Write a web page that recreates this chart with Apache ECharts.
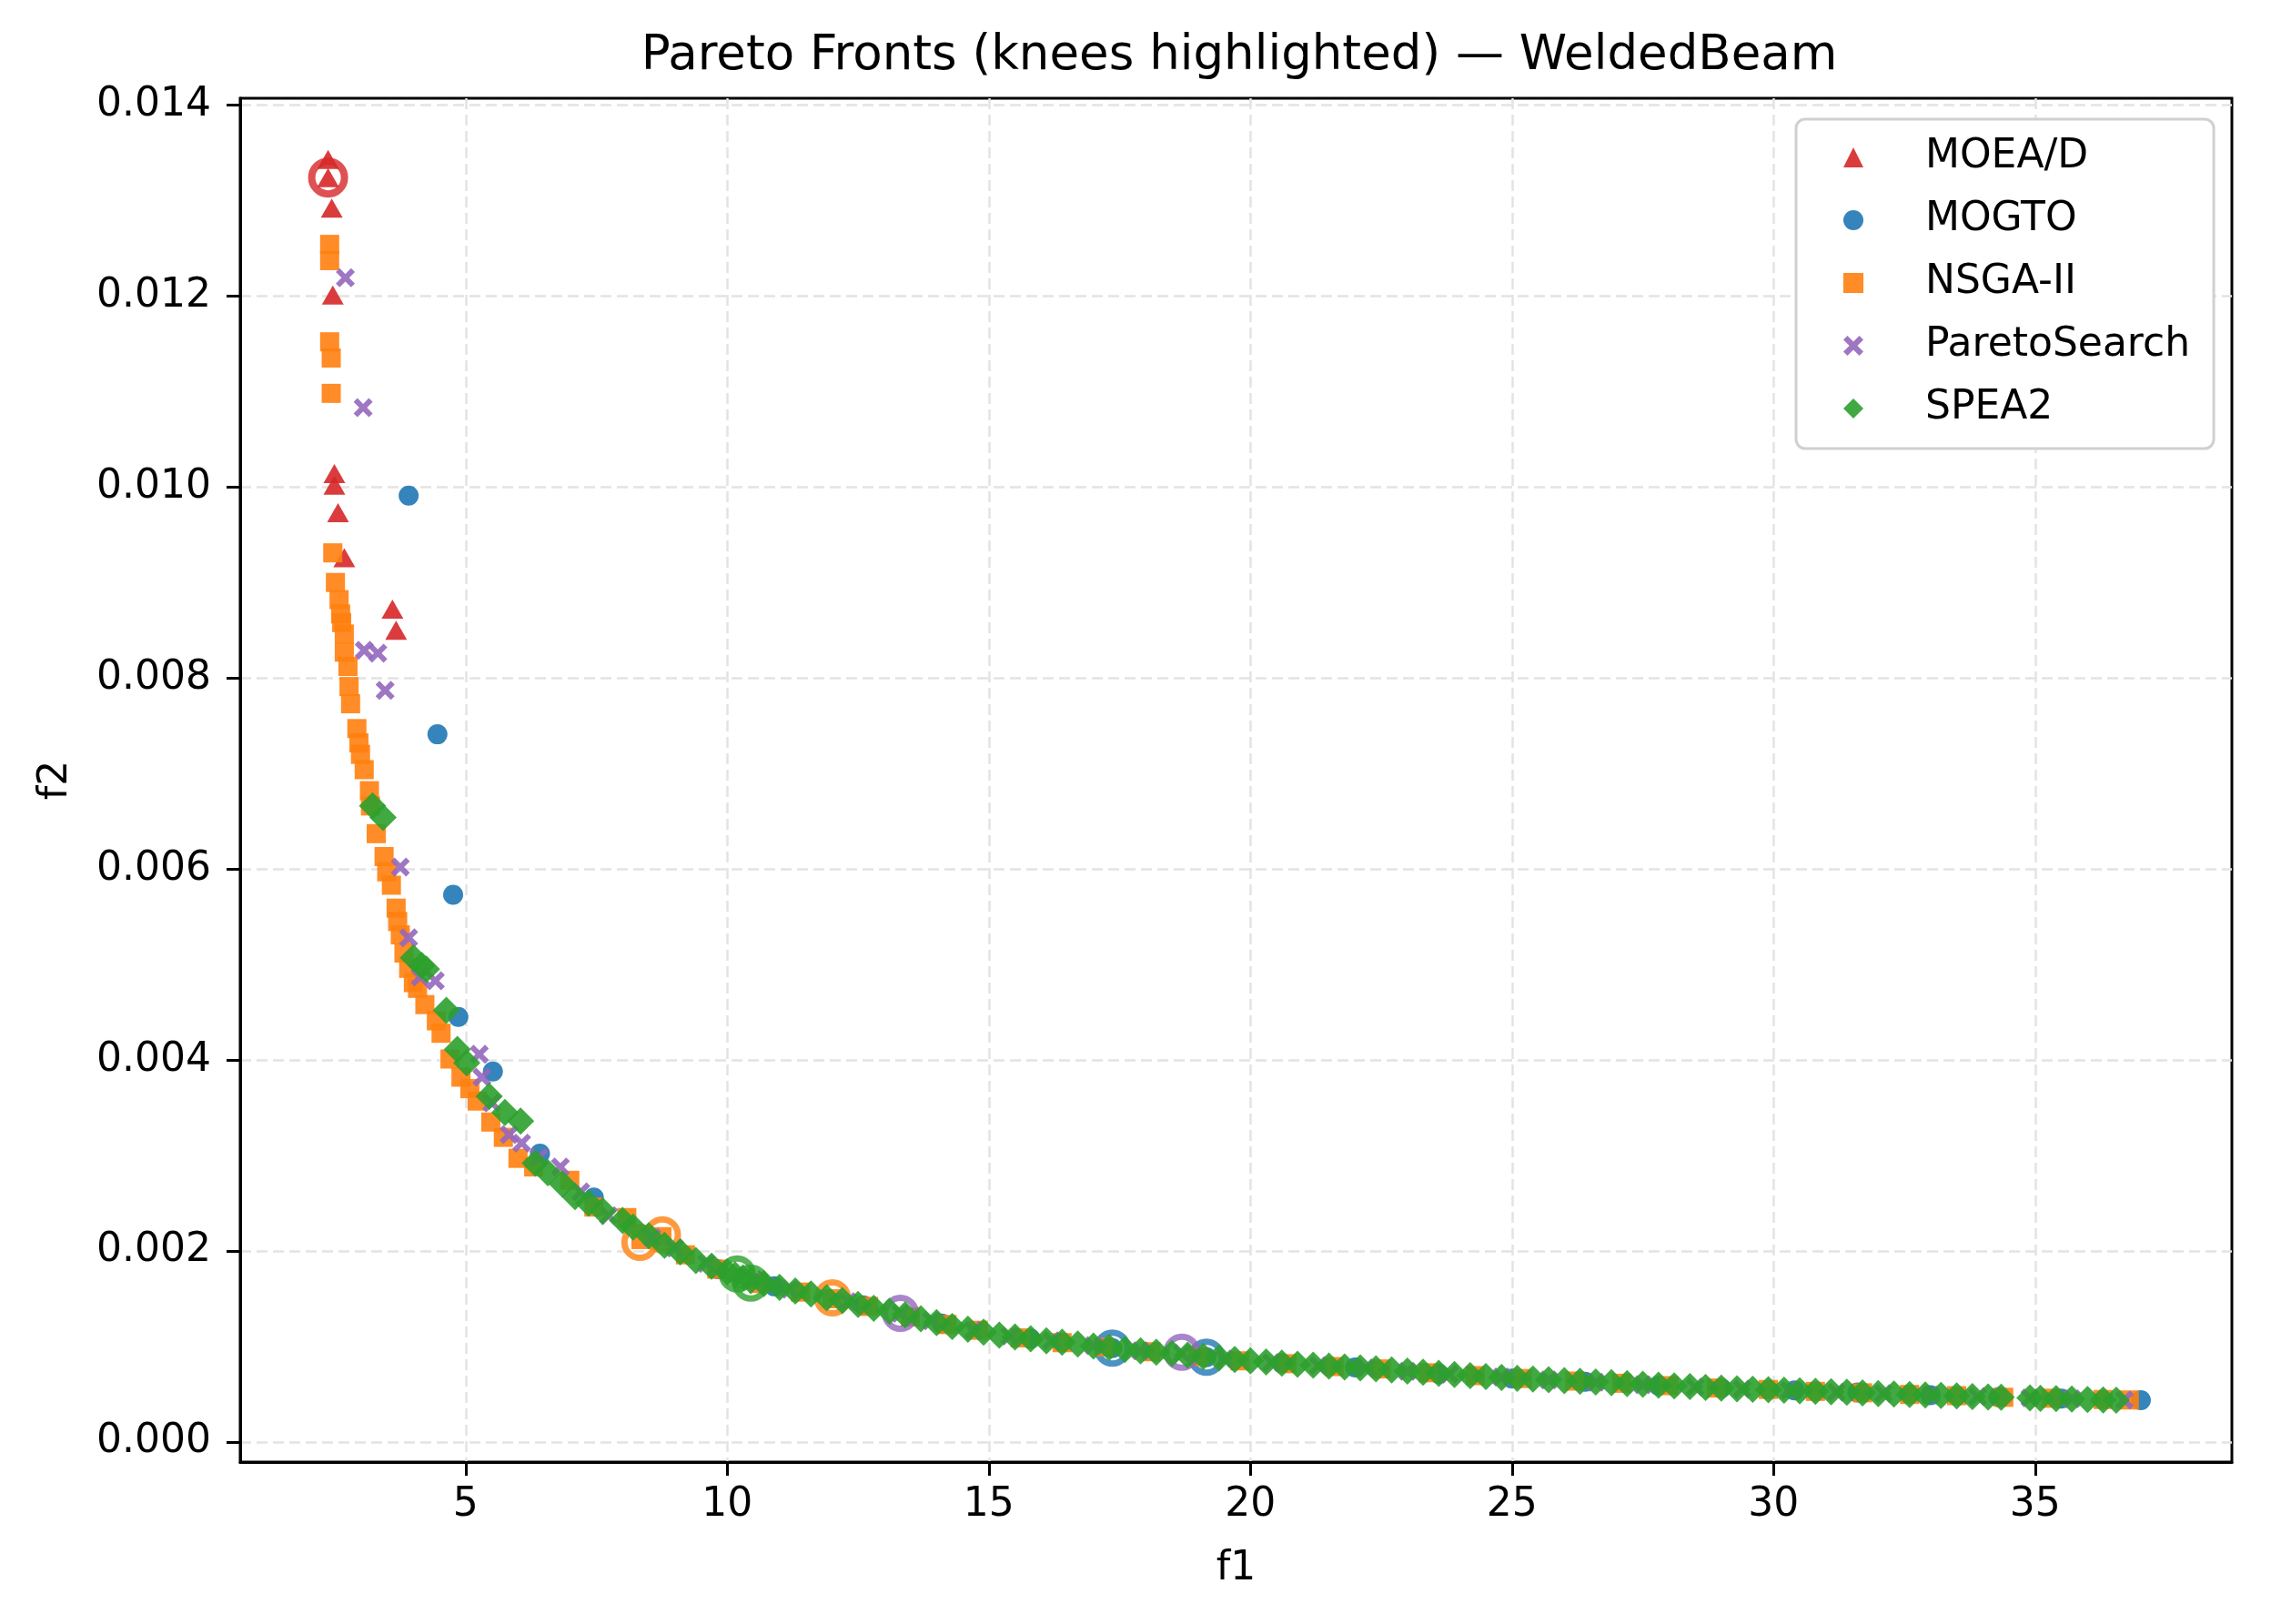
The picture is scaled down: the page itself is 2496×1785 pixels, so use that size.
<!DOCTYPE html>
<html>
<head>
<meta charset="UTF-8">
<title>Pareto Fronts — WeldedBeam</title>
<script src="https://cdn.jsdelivr.net/npm/echarts@6/dist/echarts.min.js"></script>
<style>
  html, body { margin: 0; padding: 0; background: #fff; }
  #chart { width: 2496px; height: 1785px; }
</style>
</head>
<body>
<div id="chart"></div>
<script>
// tick labels
var xTicks = [5, 10, 15, 20, 25, 30, 35];
var yTicks = [0, 0.002, 0.004, 0.006, 0.008, 0.010, 0.012, 0.014];

// series values [f1, f2]
var moeadPts = [
  [2.37, 0.01343], [2.37, 0.01324], [2.44, 0.01292], [2.46, 0.01201], [2.49, 0.01014],
  [2.49, 0.01002], [2.56, 0.00973], [2.68, 0.00926], [3.60, 0.00872], [3.67, 0.00850]
];
var mogtoPts = [
  [3.91, 0.00991], [4.46, 0.00741], [4.76, 0.00573], [4.86, 0.00445], [5.52, 0.00388],
  [6.42, 0.00302], [7.45, 0.00256], [9.82, 0.00181], [10.9, 0.00163], [12.6, 0.00143],
  [14.1, 0.00124], [15.8, 0.00108], [17.36, 0.000983], [19.16, 0.000888], [20.6, 0.000825],
  [22.0, 0.00078], [23.6, 0.000715], [25.0, 0.000665], [26.4, 0.00063], [27.8, 0.00059],
  [29.0, 0.000565], [30.4, 0.00054], [31.6, 0.000518], [33.0, 0.00049], [34.3, 0.00047],
  [35.5, 0.000455], [37.02, 0.000438]
];
var nsgaPts = [
  [2.40, 0.01254], [2.40, 0.01237], [2.40, 0.01152], [2.43, 0.01135], [2.43, 0.01098],
  [2.46, 0.00931], [2.51, 0.00900], [2.58, 0.00882], [2.61, 0.00867], [2.63, 0.00858],
  [2.68, 0.00846], [2.68, 0.00827], [2.75, 0.00812], [2.77, 0.00791], [2.80, 0.00773],
  [2.92, 0.00747], [2.96, 0.00732], [2.99, 0.00720], [3.06, 0.00704], [3.16, 0.00682],
  [3.18, 0.00666], [3.29, 0.00637], [3.44, 0.00613], [3.49, 0.00597], [3.58, 0.00583],
  [3.67, 0.00559], [3.70, 0.00545], [3.75, 0.00531], [3.82, 0.00512], [3.91, 0.00496],
  [4.00, 0.00481], [4.08, 0.00475], [4.22, 0.00458], [4.44, 0.00441], [4.53, 0.00428],
  [4.70, 0.00401], [4.91, 0.00382], [5.08, 0.00370], [5.22, 0.00357], [5.48, 0.00335],
  [5.72, 0.00319], [6.00, 0.00297], [6.30, 0.00288], [6.99, 0.00274], [7.45, 0.00246],
  [8.08, 0.00235], [8.35, 0.00212], [8.75, 0.00215], [9.2, 0.00196], [9.8, 0.00181],
  [10.6, 0.00166], [11.4, 0.00157], [12.0, 0.00150], [12.7, 0.00142], [13.5, 0.00131],
  [14.2, 0.00123], [14.8, 0.00117], [15.6, 0.00109], [16.4, 0.00104], [17.2, 0.000995],
  [18.1, 0.000945], [19.0, 0.000895], [19.8, 0.00085], [20.7, 0.00082], [21.6, 0.00079],
  [22.5, 0.000765], [23.4, 0.000725], [24.3, 0.000695], [25.2, 0.000665], [26.2, 0.000638],
  [27.1, 0.000615], [28.0, 0.00059], [28.9, 0.000565], [29.9, 0.00055], [30.8, 0.00053],
  [31.7, 0.000515], [32.6, 0.000498], [33.5, 0.000485], [34.4, 0.000468], [35.3, 0.000458],
  [36.3, 0.000445], [36.8, 0.00044]
];
var paretoPts = [
  [2.70, 0.01219], [3.04, 0.01083], [3.06, 0.00829], [3.32, 0.00826], [3.46, 0.00787],
  [3.75, 0.00602], [3.91, 0.00528], [4.13, 0.00487], [4.42, 0.00483], [5.26, 0.00406],
  [5.31, 0.00382], [5.50, 0.00355], [5.83, 0.00322], [6.07, 0.00313], [6.40, 0.00298],
  [6.81, 0.00288], [7.20, 0.00262], [7.73, 0.00237], [8.56, 0.00214], [9.0, 0.00203],
  [9.6, 0.00187], [10.5, 0.00170], [11.2, 0.00160], [12.3, 0.00147], [13.31, 0.001348],
  [13.9, 0.00127], [14.7, 0.00117], [15.4, 0.00111], [16.2, 0.00106], [17.0, 0.00101],
  [17.9, 0.000955], [18.69, 0.00093], [19.5, 0.00087], [20.4, 0.00083], [21.3, 0.0008],
  [22.2, 0.000775], [23.0, 0.00074], [23.8, 0.00071], [24.8, 0.00068], [25.7, 0.00065],
  [26.6, 0.000625], [27.5, 0.0006], [28.5, 0.000575], [29.4, 0.000555], [30.3, 0.00054],
  [31.2, 0.00052], [32.1, 0.000508], [33.0, 0.00049], [33.9, 0.000475], [34.9, 0.000462],
  [35.7, 0.000452], [36.7, 0.00044]
];
var spea2Pts = [
  [3.22, 0.00666], [3.42, 0.00654], [4.00, 0.00507], [4.16, 0.00499], [4.25, 0.00495],
  [4.63, 0.00452], [4.84, 0.00411], [5.02, 0.00397], [5.45, 0.00362], [5.75, 0.00345],
  [6.05, 0.00336], [6.33, 0.00292], [6.57, 0.00282], [6.85, 0.00270], [7.09, 0.00257],
  [7.35, 0.00250], [7.62, 0.00242], [8.0, 0.00232], [8.2, 0.00225], [8.5, 0.00216],
  [8.8, 0.00206], [9.1, 0.00199], [9.4, 0.00190], [9.7, 0.00184], [10.0, 0.00178],
  [10.15, 0.00175], [10.3, 0.00172], [10.45, 0.00169], [10.7, 0.00166], [11.0, 0.00162],
  [11.3, 0.00158], [11.6, 0.00155], [11.9, 0.00151], [12.2, 0.00148], [12.5, 0.00144],
  [12.8, 0.00140], [13.1, 0.00137], [13.4, 0.00133], [13.7, 0.00129], [14.0, 0.00125],
  [14.3, 0.00121], [14.6, 0.00118], [14.9, 0.00115], [15.2, 0.00112], [15.5, 0.0011],
  [15.8, 0.00108], [16.1, 0.00106], [16.4, 0.001045], [16.7, 0.001025], [17.0, 0.001005],
  [17.3, 0.00099], [17.6, 0.00097], [17.9, 0.000955], [18.2, 0.00094], [18.5, 0.000925],
  [18.8, 0.00091], [19.1, 0.000895], [19.4, 0.00088], [19.7, 0.000865], [20.0, 0.00085],
  [20.3, 0.000838], [20.6, 0.000826], [20.9, 0.000815], [21.2, 0.000805], [21.5, 0.000795],
  [21.8, 0.000786], [22.1, 0.000776], [22.4, 0.000766], [22.7, 0.000755], [23.0, 0.000742],
  [23.3, 0.00073], [23.6, 0.000718], [23.9, 0.000706], [24.2, 0.000695], [24.5, 0.000686],
  [24.8, 0.000676], [25.1, 0.000667], [25.4, 0.000659], [25.7, 0.000651], [26.0, 0.000643],
  [26.3, 0.000636], [26.6, 0.000628], [26.9, 0.00062], [27.2, 0.000612], [27.5, 0.000604],
  [27.8, 0.000596], [28.1, 0.000588], [28.4, 0.00058], [28.7, 0.000572], [29.0, 0.000565],
  [29.3, 0.000558], [29.6, 0.000552], [29.9, 0.000547], [30.2, 0.000542], [30.5, 0.000536],
  [30.8, 0.000531], [31.1, 0.000525], [31.4, 0.00052], [31.7, 0.000514], [32.0, 0.000508],
  [32.3, 0.000502], [32.6, 0.000497], [32.9, 0.000492], [33.2, 0.000487], [33.5, 0.000482],
  [33.8, 0.000477], [34.1, 0.000472], [34.35, 0.000469], [34.9, 0.000462], [35.1, 0.000458],
  [35.4, 0.000454], [35.7, 0.00045], [36.0, 0.000446], [36.3, 0.000441], [36.55, 0.000437]
];

// knee points (highlighted rings)
var moeadKnees = [[2.37, 0.01324]];
var mogtoKnees = [[17.36, 0.000983], [19.16, 0.000888]];
var nsgaKnees = [[8.33, 0.00209], [8.76, 0.00217], [12.01, 0.00151]];
var paretoKnees = [[13.31, 0.001348], [18.69, 0.00094]];
var spea2Knees = [[10.19, 0.00176], [10.45, 0.001665]];

var names = ['MOEA/D', 'MOGTO', 'NSGA-II', 'ParetoSearch', 'SPEA2'];
var colors = ['#d62728', '#1f77b4', '#ff7f0e', '#9467bd', '#2ca02c'];
var xMark = 'path://M0,2 L2,0 L5,3 L8,0 L10,2 L7,5 L10,8 L8,10 L5,7 L2,10 L0,8 L3,5 Z';

var FONT = 'DejaVu Sans';

function pts(name, data, color, symbol, size) {
    return {
        name: name, type: 'scatter', data: data,
        symbol: symbol, symbolSize: size,
        itemStyle: { color: color, opacity: 0.9 },
        emphasis: { disabled: true }, silent: true
    };
}
function knee(name, data, color, size, bw) {
    return {
        name: name + ' knee', type: 'scatter', data: data,
        symbol: 'circle', symbolSize: size,
        itemStyle: { color: 'rgba(0,0,0,0)', borderColor: color, borderWidth: bw },
        emphasis: { disabled: true }, silent: true
    };
}

var myChart = echarts.init(document.getElementById('chart'));
var option = {
    backgroundColor: '#fff',
    animation: false,
    title: {
        text: 'Pareto Fronts (knees highlighted) — WeldedBeam',
        left: 1362, top: 36, textAlign: 'center', padding: 0,
        textStyle: { fontFamily: FONT, fontSize: 53, fontWeight: 'normal', color: '#000' }
    },
    grid: {
        left: 264, right: 43, top: 108, bottom: 178,
        show: true, borderColor: '#000', borderWidth: 3, backgroundColor: 'transparent'
    },
    legend: {
        data: names,
        orient: 'vertical',
        left: 1974, top: 131,
        padding: [20, 26, 22, 52],
        itemWidth: 22, itemHeight: 22, itemGap: 25,
        backgroundColor: '#fff',
        borderColor: '#d0d0d0', borderWidth: 3, borderRadius: 10,
        textStyle: { fontFamily: FONT, fontSize: 44, lineHeight: 44, color: '#000', padding: [0, 0, 0, 63] }
    },
    xAxis: {
        type: 'value', min: 0.69, max: 38.76,
        name: 'f1', nameLocation: 'middle', nameGap: 96,
        nameTextStyle: { fontFamily: FONT, fontSize: 44, color: '#000' },
        axisLine: { show: true, onZero: false, lineStyle: { color: '#000', width: 3 } },
        axisTick: { show: true, length: 15, lineStyle: { color: '#000', width: 3 }, customValues: xTicks },
        axisLabel: { fontFamily: FONT, fontSize: 44, color: '#000', margin: 26, customValues: xTicks },
        splitLine: { show: true, lineStyle: { color: '#e3e3e3', width: 2.5, type: [12, 6] } }
    },
    yAxis: {
        type: 'value', min: -0.00021, max: 0.01407,
        name: 'f2', nameLocation: 'middle', nameGap: 180,
        nameTextStyle: { fontFamily: FONT, fontSize: 44, color: '#000' },
        axisLine: { show: true, onZero: false, lineStyle: { color: '#000', width: 3 } },
        axisTick: { show: true, length: 15, lineStyle: { color: '#000', width: 3 }, customValues: yTicks },
        axisLabel: {
            fontFamily: FONT, fontSize: 44, color: '#000', margin: 32, customValues: yTicks,
            formatter: function (v) { return v.toFixed(3); }
        },
        splitLine: { show: true, lineStyle: { color: '#e3e3e3', width: 2.5, type: [12, 6] } }
    },
    series: [
        pts(names[0], moeadPts, colors[0], 'triangle', [24, 21]),
        knee(names[0], moeadKnees, colors[0], 36, 8),
        pts(names[1], mogtoPts, colors[1], 'circle', 22),
        knee(names[1], mogtoKnees, colors[1], 34, 7),
        pts(names[2], nsgaPts, colors[2], 'rect', 21),
        knee(names[2], nsgaKnees, colors[2], 34, 7),
        pts(names[3], paretoPts, colors[3], xMark, 21),
        knee(names[3], paretoKnees, colors[3], 34, 7),
        pts(names[4], spea2Pts, colors[4], 'diamond', 30),
        knee(names[4], spea2Knees, colors[4], 34, 7)
    ]
};
myChart.setOption(option);
</script>
</body>
</html>
